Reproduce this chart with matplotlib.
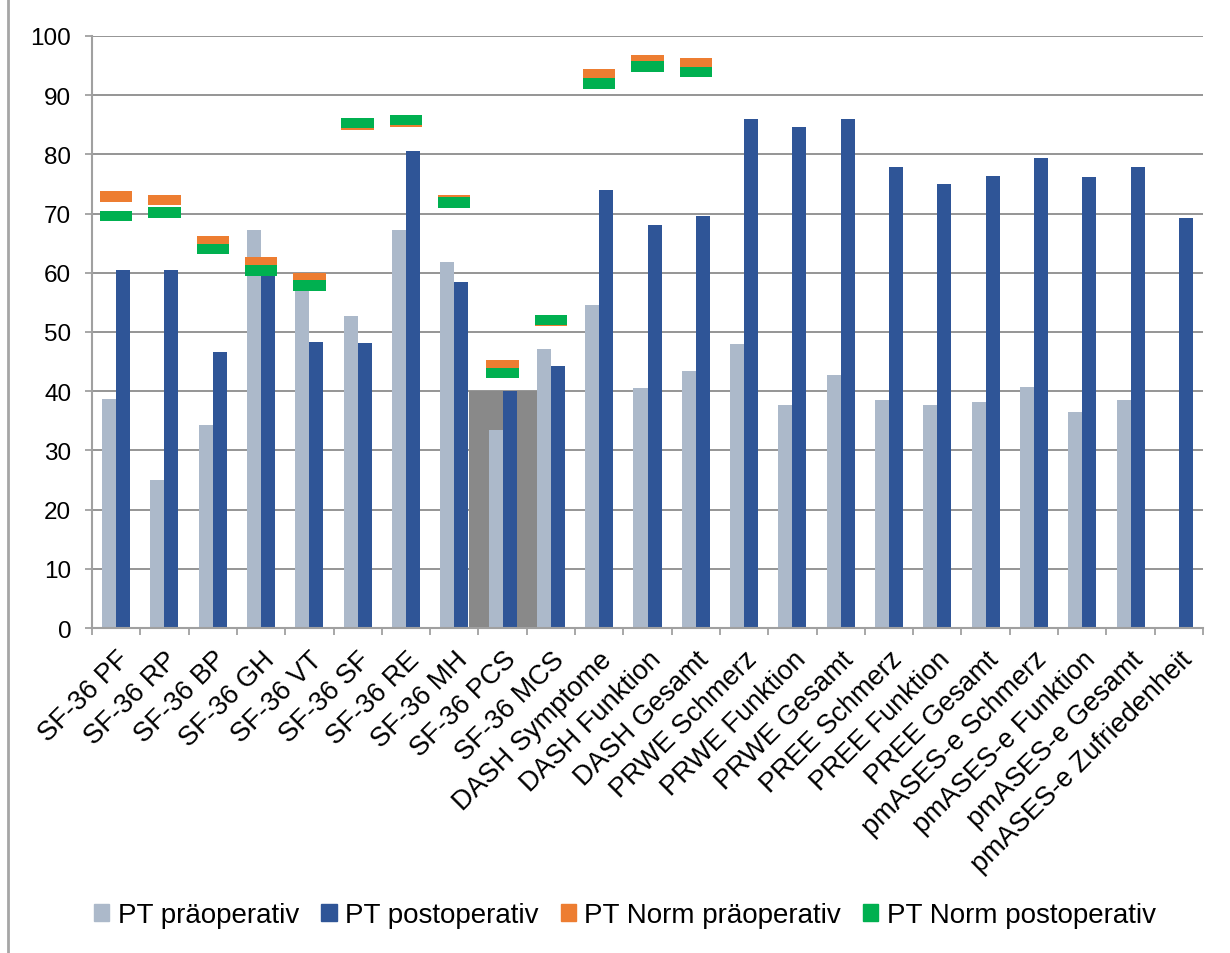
import numpy as np
import matplotlib.pyplot as plt
from matplotlib.lines import Line2D
from matplotlib.patches import Patch

plt.rcParams['font.family'] = ['Liberation Sans', 'DejaVu Sans']

categories = ['SF-36 PF', 'SF-36 RP', 'SF-36 BP', 'SF-36 GH', 'SF-36 VT', 'SF-36 SF',
              'SF-36 RE', 'SF-36 MH', 'SF-36 PCS', 'SF-36 MCS', 'DASH Symptome',
              'DASH Funktion', 'DASH Gesamt', 'PRWE Schmerz', 'PRWE Funktion',
              'PRWE Gesamt', 'PREE Schmerz', 'PREE Funktion', 'PREE Gesamt',
              'pmASES-e Schmerz', 'pmASES-e Funktion', 'pmASES-e Gesamt',
              'pmASES-e Zufriedenheit']

# PT scores before / after surgery (last one has no pre-op value)
pt_pre = [38.7, 25.0, 34.3, 67.2, 60.0, 52.7, 67.3, 61.9, 33.5, 47.2, 54.6,
          40.6, 43.4, 48.0, 37.6, 42.8, 38.5, 37.7, 38.2, 40.7, 36.5, 38.5, np.nan]
pt_post = [60.5, 60.5, 46.7, 61.0, 48.3, 48.1, 80.5, 58.4, 40.1, 44.2, 74.0,
           68.1, 69.6, 85.9, 84.7, 85.9, 77.9, 75.0, 76.4, 79.4, 76.2, 77.9, 69.3]

# reference norm values (only available for SF-36 and DASH)
norm_pre = [72.9, 72.3, 65.3, 61.7, 59.0, 85.0, 85.6, 72.2, 44.3, 51.85, 93.5,
            95.9, 95.3] + [np.nan] * 10
norm_post = [69.6, 70.2, 64.0, 60.4, 57.9, 85.3, 85.8, 71.9, 43.1, 52.0, 92.0,
             94.8, 93.9] + [np.nan] * 10

# shaded block behind the SF-36 summary scores
summary_idx = 8
summary_level = 40

c_pre = '#acb9ca'
c_post = '#2f5597'
c_norm_pre = '#ed7d31'
c_norm_post = '#00b050'

fig = plt.figure(figsize=(12.3, 9.54), dpi=100)
ax = fig.add_axes([92 / 1230, 1 - 629 / 954, (1203 - 92) / 1230, (629 - 37) / 954])

x = np.arange(len(categories))
bw = 0.29

ax.bar(summary_idx, summary_level, width=1.41, color='#898989', zorder=1.5)
ax.bar(x - bw / 2, pt_pre, width=bw, color=c_pre, zorder=2)
ax.bar(x + bw / 2, pt_post, width=bw, color=c_post, zorder=2)

# norm values drawn as short flat dashes
mh = 1.8
ax.bar(x, mh, bottom=np.array(norm_pre) - mh / 2, width=0.67, color=c_norm_pre, zorder=3)
ax.bar(x, mh, bottom=np.array(norm_post) - mh / 2, width=0.67, color=c_norm_post, zorder=4)

ax.set_xlim(-0.5, len(categories) - 0.5)
ax.set_ylim(0, 100)
ax.set_yticks(np.arange(0, 101, 10))
ax.yaxis.grid(True, color='#8c8c8c', lw=1.3, zorder=0)
ax.set_axisbelow(True)

for s in ['top', 'right']:
    ax.spines[s].set_visible(False)
for s in ['left', 'bottom']:
    ax.spines[s].set_color('#a0a0a0')
    ax.spines[s].set_linewidth(1.5)

ax.tick_params(axis='y', labelsize=17.5, length=5, width=1.3, color='#a0a0a0', pad=10)
ax.set_xticks(x)
ax.set_xticklabels(categories, rotation=45, ha='right', rotation_mode='anchor', fontsize=19.5)
ax.tick_params(axis='x', which='major', length=0, pad=13)
ax.set_xticks(np.arange(-0.5, len(categories)), minor=True)
ax.tick_params(axis='x', which='minor', length=5, width=1.3, color='#a0a0a0')

handles = [Patch(color=c_pre), Patch(color=c_post), Patch(color=c_norm_pre), Patch(color=c_norm_post)]
labels = ['PT präoperativ', 'PT postoperativ', 'PT Norm präoperativ', 'PT Norm postoperativ']
fig.legend(handles, labels, loc='center', bbox_to_anchor=(625 / 1230, 1 - 916 / 954),
           ncol=4, frameon=False, fontsize=20, handlelength=0.55, handleheight=0.55,
           handletextpad=0.3, columnspacing=0.8)

fig.add_artist(Line2D([7.5 / 1230] * 2, [0, 1], color='#a6a6a6', lw=2, transform=fig.transFigure))

fig.savefig('out.png', dpi=100)
